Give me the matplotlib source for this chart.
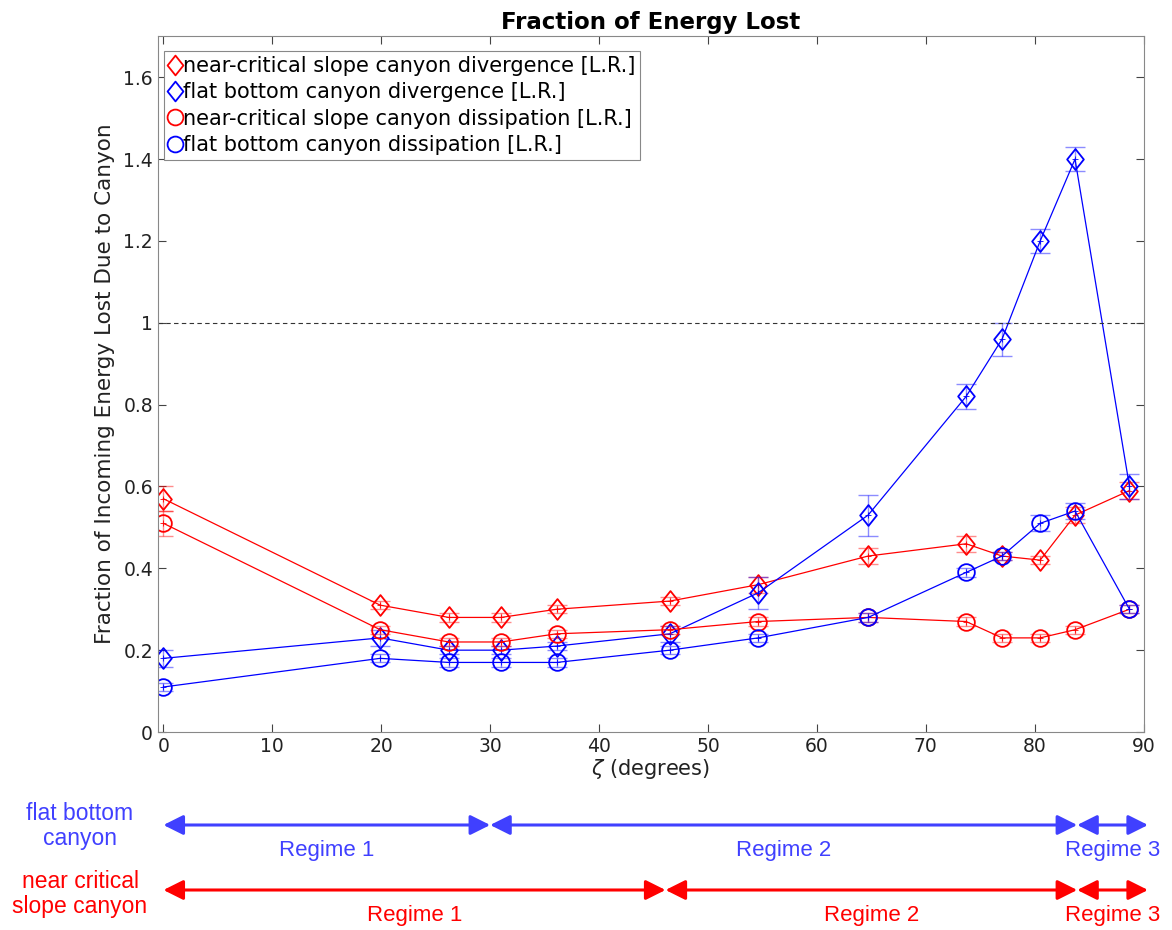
import matplotlib
matplotlib.use('Agg')
import matplotlib.pyplot as plt
from matplotlib.lines import Line2D
from matplotlib.path import Path
from matplotlib.ticker import FormatStrFormatter
import matplotlib.transforms as mtransforms
import numpy as np

# data
zeta = [0, 19.9, 26.2, 31.0, 36.1, 46.5, 54.6, 64.7, 73.7, 77.0, 80.5, 83.7, 88.7]

ncs_div = [0.57, 0.31, 0.28, 0.28, 0.30, 0.32, 0.36, 0.43, 0.46, 0.43, 0.42, 0.53, 0.59]
ncs_div_err = [0.03, 0.01, 0.01, 0.01, 0.01, 0.01, 0.02, 0.02, 0.02, 0.01, 0.01, 0.02, 0.02]

fb_div = [0.18, 0.23, 0.20, 0.20, 0.21, 0.24, 0.34, 0.53, 0.82, 0.96, 1.20, 1.40, 0.60]
fb_div_err = [0.02, 0.02, 0.01, 0.01, 0.01, 0.02, 0.04, 0.05, 0.03, 0.04, 0.03, 0.03, 0.03]

ncs_dis = [0.51, 0.25, 0.22, 0.22, 0.24, 0.25, 0.27, 0.28, 0.27, 0.23, 0.23, 0.25, 0.30]
ncs_dis_err = [0.03, 0.01, 0.01, 0.01, 0.01, 0.01, 0.01, 0.01, 0.01, 0.01, 0.01, 0.01, 0.01]

fb_dis = [0.11, 0.18, 0.17, 0.17, 0.17, 0.20, 0.23, 0.28, 0.39, 0.43, 0.51, 0.54, 0.30]
fb_dis_err = [0.01, 0.01, 0.01, 0.01, 0.01, 0.01, 0.01, 0.01, 0.01, 0.01, 0.02, 0.02, 0.01]

labels = ['near-critical slope canyon divergence [L.R.]',
          'flat bottom canyon divergence [L.R.]',
          'near-critical slope canyon dissipation [L.R.]',
          'flat bottom canyon dissipation [L.R.]']

# regime boundaries (degrees)
fb_regimes = [0, 30.0, 83.9, 90.4]
ncs_regimes = [0, 46.1, 83.9, 90.4]
regime_names = ['Regime 1', 'Regime 2', 'Regime 3']

RED = '#ff0000'
BLUE = '#0000ff'
ARROW_BLUE = '#4040ff'

plt.rcParams['font.family'] = ['DejaVu Sans']

# MATLAB-like diamond (slightly taller than wide)
diamond = Path([(0, 1), (0.8, 0), (0, -1), (-0.8, 0), (0, 1)],
               [Path.MOVETO, Path.LINETO, Path.LINETO, Path.LINETO, Path.CLOSEPOLY])

fig = plt.figure(figsize=(11.72, 9.3), dpi=100)
ax = fig.add_axes([0.1348, 0.2129, 0.841, 0.748])

series = [
    (ncs_div, ncs_div_err, RED, diamond, 15),
    (fb_div, fb_div_err, BLUE, diamond, 15),
    (ncs_dis, ncs_dis_err, RED, 'o', 12),
    (fb_dis, fb_dis_err, BLUE, 'o', 12),
]
handles = []
for (vals, err, col, mk, ms), lab in zip(series, labels):
    ax.errorbar(zeta, vals, yerr=err, fmt='none', ecolor=col, alpha=0.45,
                elinewidth=1, capsize=7, capthick=1)
    ax.plot(zeta, vals, color=col, lw=0.9, marker=mk, markersize=ms,
            markerfacecolor='none', markeredgecolor=col, markeredgewidth=1.3)
    ax.plot(zeta, vals, ls='none', marker='+', markersize=5, color=col, mew=0.6)
    handles.append(Line2D([], [], ls='none', marker=mk, markersize=ms * 0.95,
                          markerfacecolor='none', markeredgecolor=col,
                          markeredgewidth=1.3))

ax.axhline(1.0, color='#333333', ls='--', lw=0.8, dashes=(4, 3))

ax.set_xlim(-0.5, 90)
ax.set_ylim(0, 1.7)
ax.set_xticks(np.arange(0, 91, 10))
ax.set_yticks(np.arange(0, 1.61, 0.2))
ax.yaxis.set_major_formatter(FormatStrFormatter('%g'))
ax.tick_params(direction='in', top=True, right=True, labelsize=13.5,
               length=6, color='#444444', labelcolor='#222222')
for s in ax.spines.values():
    s.set_color('#888888')

ax.set_title('Fraction of Energy Lost', fontsize=16.5, fontweight='bold', pad=5)
ax.set_xlabel('$\\zeta$ (degrees)', fontsize=15, color='#222222', labelpad=1)
ax.set_ylabel('Fraction of Incoming Energy Lost Due to Canyon', fontsize=15.5,
              color='#222222', labelpad=6)

leg = ax.legend(handles, labels, loc='upper left', bbox_to_anchor=(0.002, 0.985),
                fontsize=15, handlelength=0.55, handletextpad=0.1,
                labelspacing=0.3, borderpad=0.25, borderaxespad=0.2,
                fancybox=False, framealpha=1, edgecolor='#888888')
leg.get_frame().set_linewidth(0.8)

# regime arrows below the axes
trans = mtransforms.blended_transform_factory(ax.transData, fig.transFigure)
rows = [
    (fb_regimes, ARROW_BLUE, 1 - 825 / 930, 1 - 850 / 930),
    (ncs_regimes, RED, 1 - 890 / 930, 1 - 915 / 930),
]
for bounds, col, ya, yt in rows:
    for i in range(len(bounds) - 1):
        x0, x1 = bounds[i], bounds[i + 1]
        ax.annotate('', xy=(x1, ya), xytext=(x0, ya), xycoords=trans,
                    textcoords=trans, annotation_clip=False,
                    arrowprops=dict(arrowstyle='<|-|>,head_length=0.6,head_width=0.3',
                                    color=col, lw=2.2, shrinkA=0, shrinkB=0,
                                    mutation_scale=20))
        ax.text((x0 + x1) / 2, yt, regime_names[i], transform=trans,
                ha='center', va='center', color=col, fontsize=16,
                family='Liberation Sans')

fig.text(80 / 1172, 1 - 826 / 930, 'flat bottom\ncanyon', ha='center', va='center',
         color=ARROW_BLUE, fontsize=16.5, family='Liberation Sans', linespacing=1.15)
fig.text(80 / 1172, 1 - 894 / 930, 'near critical\nslope canyon', ha='center',
         va='center', color=RED, fontsize=16.5, family='Liberation Sans',
         linespacing=1.15)

fig.savefig('out.png', dpi=100)
